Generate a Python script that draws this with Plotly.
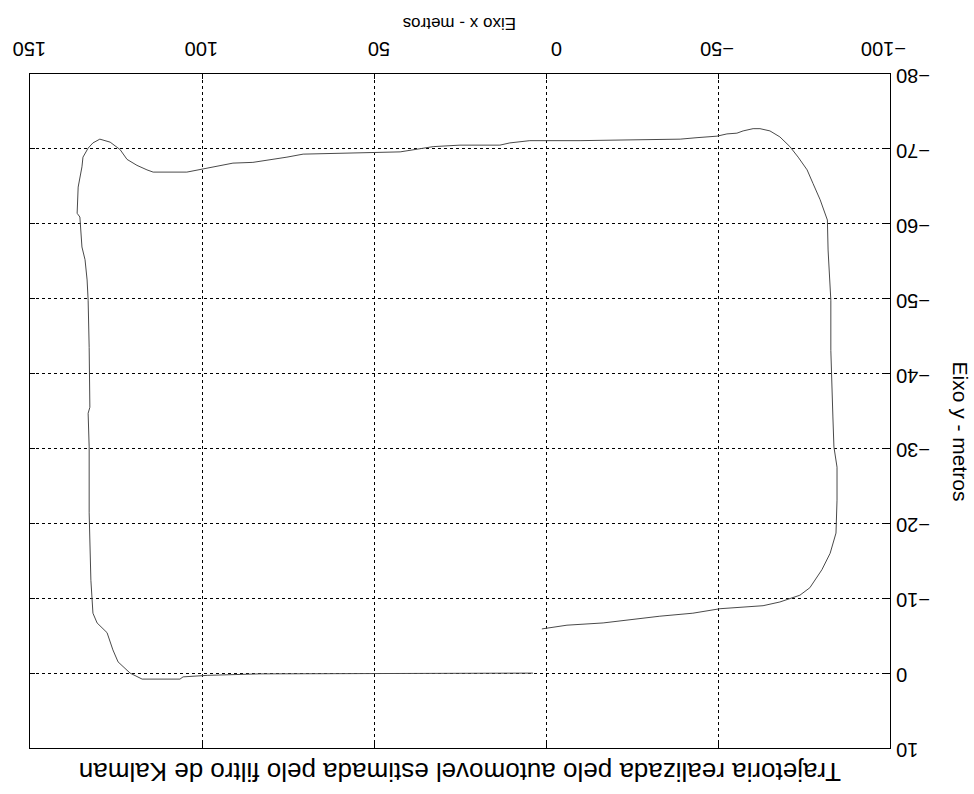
import plotly.graph_objects as go

# Estimated vehicle trajectory (Kalman filter output), metres
traj_x = [1.2, -6.1, -16.6, -23.5, -33.1, -42.7, -50.6, -63.1, -68.0, -73.8, -76.7,
          -80.2, -82.6, -84.3, -84.6, -84.6, -83.7, -83.4, -83.1, -82.8, -82.8, -82.0,
          -81.8, -79.7, -77.6, -75.9, -73.3, -70.9, -68.0, -65.1, -62.2, -60.2, -57.3,
          -55.5, -52.6, -49.7, -43.9, -39.0,
          -9.9, 4.7, 10.5, 13.4, 25.0, 32.8, 42.4, 53.2, 70.6, 75.3, 79.4, 85.2, 91.0,
          95.6, 99.1, 104.4, 114.2, 116.0, 118.9, 121.8, 123.8, 126.7, 129.7, 131.7,
          133.1, 134.6, 134.9, 136.0, 136.3, 135.5, 134.9, 134.0, 133.4, 133.1, 132.8,
          132.6, 133.1, 132.8, 132.8, 132.3, 131.7, 130.5, 127.6, 125.9, 124.4, 120.9,
          117.4, 106.4, 105.5, 98.5, 83.1, 3.8]
traj_y = [-5.9, -6.4, -6.7, -7.1, -7.6, -8.0, -8.6, -9.0, -9.5, -10.4, -11.4,
          -13.8, -16.0, -18.7, -23.1, -27.5, -30.2, -34.2, -39.5, -43.1, -49.8, -56.5,
          -60.5, -63.2, -65.4, -67.2, -68.9, -70.3, -71.6, -72.4, -72.7, -72.7, -72.4,
          -72.1, -72.0, -71.7, -71.5, -71.3,
          -71.1, -71.1, -70.8, -70.5, -70.5, -70.3, -69.6, -69.5, -69.3, -68.9, -68.6,
          -68.2, -68.1, -67.7, -67.3, -66.9, -66.9, -67.2, -67.8, -68.6, -69.9, -70.9,
          -71.3, -70.8, -70.1, -68.9, -67.6, -64.9, -61.4, -60.9, -56.9, -55.2, -52.5,
          -49.8, -43.5, -35.5, -34.7, -30.2, -21.4, -12.4, -8.0, -6.7, -5.4, -3.1, -1.5,
          0.0, 0.8, 0.8, 0.5, 0.3, 0.1, 0.0]

x_ticks = [-100, -50, 0, 50, 100, 150]
y_ticks = [-80, -70, -60, -50, -40, -30, -20, -10, 0, 10]

title_text = "Trajetoria realizada pelo automovel estimada pelo filtro de Kalman"
x_title = "Eixo x - metros"
y_title = "Eixo y - metros"

FONT = "Liberation Sans, Arial, sans-serif"

fig = go.Figure()
fig.add_trace(go.Scatter(x=traj_x, y=traj_y, mode="lines",
                         line=dict(color="#4a4a4a", width=1),
                         showlegend=False, hoverinfo="skip"))

axis_common = dict(
    showgrid=True, gridcolor="black", gridwidth=1, griddash="3px,3px",
    showline=True, linecolor="black", linewidth=1, mirror="ticks",
    ticks="inside", ticklen=5, tickcolor="black",
    zeroline=False, tickangle=180, ticklabeloverflow="allow", automargin=False,
    tickfont=dict(family=FONT, size=20, color="black"),
)

# The whole figure is shown turned through 180 degrees
fig.update_xaxes(range=[150, -100], tickvals=x_ticks, side="top",
                 ticklabelstandoff=3, ticklabelshift=-16, **axis_common)
# labels set "inside" so that, once turned, they run outward from the axis
fig.update_yaxes(range=[10, -80], tickvals=y_ticks, side="right",
                 ticklabelposition="inside", ticklabelstandoff=-10,
                 ticklabelshift=-8, **axis_common)

fig.add_annotation(text=x_title, xref="paper", yref="paper", x=0.5, y=1,
                   yshift=62, showarrow=False, textangle=180,
                   font=dict(family=FONT, size=17, color="black"))
fig.add_annotation(text=title_text, xref="paper", yref="paper", x=0.5, y=0,
                   yshift=-41, showarrow=False, textangle=180,
                   font=dict(family=FONT, size=26, color="black"))
fig.add_annotation(text=y_title, xref="paper", yref="paper", x=1, y=0.5,
                   xshift=84, yshift=-20, showarrow=False, textangle=90,
                   font=dict(family=FONT, size=21, color="black"))

fig.update_layout(
    width=974, height=794,
    margin=dict(l=30, r=84, t=74, b=46),
    paper_bgcolor="white", plot_bgcolor="white",
)

fig.write_html("out.html")
